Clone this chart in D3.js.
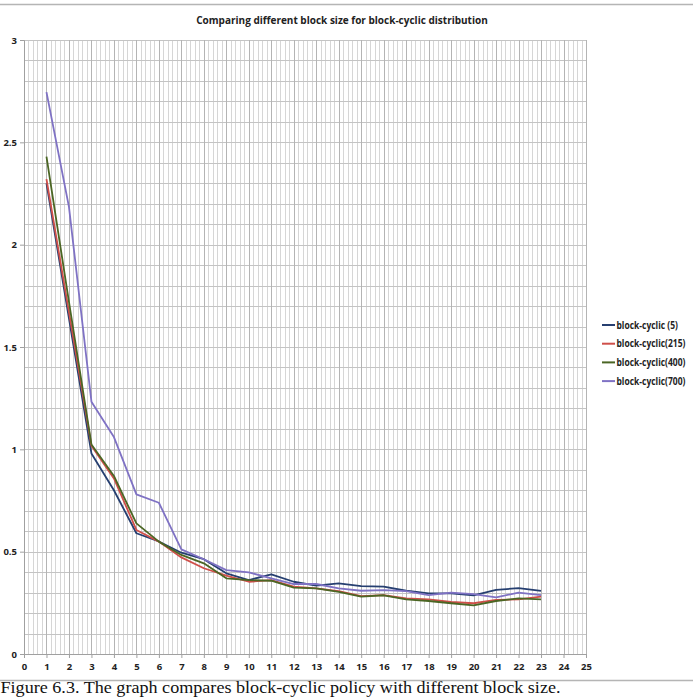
<!DOCTYPE html>
<html>
<head>
<meta charset="utf-8">
<script src="https://cdn.jsdelivr.net/npm/d3@7"></script>
<style>
  html, body { margin: 0; padding: 0; background: #fff; }
  svg { display: block; }
</style>
</head>
<body>
<svg id="chart" width="693" height="697"></svg>
<script>
const titleText = "Comparing different block size for block-cyclic distribution";
const captionText = "Figure 6.3. The graph compares block-cyclic policy with different block size.";
const xValues = [1,2,3,4,5,6,7,8,9,10,11,12,13,14,15,16,17,18,19,20,21,22,23];
const seriesNames = ["block-cyclic (5)", "block-cyclic(215)", "block-cyclic(400)", "block-cyclic(700)"];
const seriesColors = ["#263f70", "#cf4f4a", "#4b6624", "#7f72c4"];
const bc5   = [2.30,1.64,0.98,0.80,0.59,0.55,0.495,0.463,0.394,0.361,0.389,0.353,0.334,0.345,0.332,0.329,0.309,0.296,0.296,0.287,0.313,0.322,0.308];
const bc215 = [2.32,1.67,1.018,0.858,0.606,0.549,0.472,0.419,0.383,0.353,0.361,0.329,0.321,0.307,0.283,0.288,0.272,0.267,0.254,0.248,0.264,0.267,0.280];
const bc400 = [2.43,1.72,1.024,0.870,0.638,0.549,0.484,0.443,0.370,0.361,0.358,0.324,0.321,0.303,0.280,0.287,0.267,0.259,0.248,0.238,0.259,0.272,0.267];
const bc700 = [2.745,2.185,1.233,1.06,0.78,0.739,0.511,0.463,0.41,0.399,0.370,0.342,0.342,0.321,0.309,0.312,0.307,0.288,0.300,0.293,0.277,0.300,0.288];
const allSeries = [bc5, bc215, bc400, bc700];
const xTickLabels = d3.range(0, 26);
const yTickLabels = [0, 0.5, 1, 1.5, 2, 2.5, 3];

const svg = d3.select("#chart");
const pLeft = 24, pRight = 586, pTop = 40, pBottom = 654;
const x = d3.scaleLinear().domain([0, 25]).range([pLeft, pRight]);
const y = d3.scaleLinear().domain([0, 3]).range([pBottom, pTop]);

svg.append("line").attr("x1", 0).attr("x2", 693).attr("y1", 4.5).attr("y2", 4.5)
  .attr("stroke", "#b5b5b5").attr("stroke-width", 1.5);

svg.append("text").attr("x", 342).attr("y", 24).attr("text-anchor", "middle")
  .attr("font-family", "Open Sans, sans-serif").attr("font-weight", "bold")
  .attr("font-size", 10).attr("fill", "#222").text(titleText);

const grid = svg.append("g");
grid.selectAll("line.vmin").data(d3.range(0, 25.001, 0.2).filter(v => Math.abs(v - Math.round(v)) > 1e-6))
  .enter().append("line")
  .attr("x1", d => Math.round(x(d)) + 0.5).attr("x2", d => Math.round(x(d)) + 0.5)
  .attr("y1", pTop).attr("y2", pBottom).attr("stroke", "#d6d6d6").attr("stroke-width", 1);
grid.selectAll("line.h").data(d3.range(1, 31).map(i => i / 10))
  .enter().append("line")
  .attr("x1", pLeft).attr("x2", pRight)
  .attr("y1", d => Math.round(y(d)) + 0.5).attr("y2", d => Math.round(y(d)) + 0.5)
  .attr("stroke", "#c4c4c4").attr("stroke-width", 1);
grid.selectAll("line.vmaj").data(d3.range(1, 26))
  .enter().append("line")
  .attr("x1", d => Math.round(x(d)) + 0.5).attr("x2", d => Math.round(x(d)) + 0.5)
  .attr("y1", pTop).attr("y2", pBottom).attr("stroke", "#b4b4b4").attr("stroke-width", 1);

const yAxis = d3.axisLeft(y).tickValues(yTickLabels).tickFormat(d => String(d)).tickSize(4).tickPadding(3);
const gy = svg.append("g").attr("transform", `translate(${pLeft},0)`).call(yAxis);
const xAxis = d3.axisBottom(x).tickValues(xTickLabels).tickFormat(d => String(d)).tickSize(4).tickPadding(5);
const gx = svg.append("g").attr("transform", `translate(0,${pBottom})`).call(xAxis);
[gx, gy].forEach(g => {
  g.selectAll("path.domain").attr("stroke", "#a0a0a0");
  g.selectAll(".tick line").attr("stroke", "#a0a0a0");
  g.selectAll("text").attr("font-family", "Open Sans, sans-serif").attr("font-weight", "bold")
    .attr("font-size", 9.5).attr("fill", "#222");
});

const line = d3.line().x((d, i) => x(xValues[i])).y(d => y(d));
allSeries.forEach((s, k) => {
  svg.append("path").datum(s).attr("d", line).attr("fill", "none")
    .attr("stroke", seriesColors[k]).attr("stroke-width", 1.8).attr("stroke-linejoin", "round");
});

const lg = svg.append("g");
const legendTexts = [];
seriesNames.forEach((name, k) => {
  const ly = 325 + k * 18.7;
  lg.append("line").attr("x1", 602).attr("x2", 615).attr("y1", ly).attr("y2", ly)
    .attr("stroke", seriesColors[k]).attr("stroke-width", 2);
  legendTexts.push(lg.append("text").attr("transform", `translate(616.5,${ly + 3.5})`)
    .attr("font-family", "Open Sans, sans-serif").attr("font-weight", "bold")
    .attr("font-size", 10.3).attr("fill", "#222").text(name));
});
const refLen = legendTexts[1].node().getComputedTextLength();
const factor = 69 / refLen;
legendTexts.forEach((t, k) => {
  const ly = 325 + k * 18.7;
  t.attr("transform", `translate(616.5,${ly + 3.5}) scale(${factor},1)`);
});

svg.append("line").attr("x1", 0).attr("x2", 693).attr("y1", 680.5).attr("y2", 680.5)
  .attr("stroke", "#b5b5b5").attr("stroke-width", 1.5);

const cap = svg.append("text").attr("transform", "translate(0.5,692.5)")
  .attr("font-family", "Liberation Serif, Times New Roman, serif")
  .attr("font-size", 16.3).attr("fill", "#111").text(captionText);
const capLen = cap.node().getComputedTextLength();
cap.attr("transform", `translate(0.5,692.5) scale(${560 / capLen},1)`);
</script>
</body>
</html>
